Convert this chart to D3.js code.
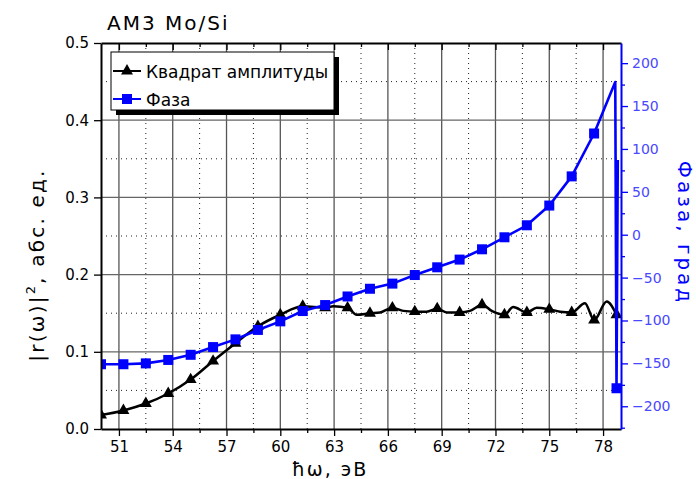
<!DOCTYPE html>
<html>
<head>
<meta charset="utf-8">
<script src="https://cdn.jsdelivr.net/npm/d3@7/dist/d3.min.js"></script>
<style>
  body { margin: 0; background: #fff; }
  svg { display: block; font-family: 'DejaVu Sans', sans-serif; }
</style>
</head>
<body>
<svg></svg>
<script>
// marker energies (eV), shared by both series
let markE = [50, 51.25, 52.5, 53.75, 55, 56.25, 57.5, 58.75, 60, 61.25, 62.5, 63.75,
             65, 66.25, 67.5, 68.75, 70, 71.25, 72.5, 73.75, 75, 76.25, 77.5, 78.75]
let ampMark = [0.018, 0.024, 0.033, 0.046, 0.064, 0.088, 0.111, 0.133, 0.148, 0.159, 0.157, 0.157,
               0.150, 0.157, 0.152, 0.156, 0.151, 0.161, 0.148, 0.151, 0.155, 0.151, 0.141, 0.148]
let phaseMark = [-151, -151, -150, -146, -140, -131, -122, -111, -101, -89, -82, -72,
                 -63, -57, -47, -38, -29, -17, -3, 11, 34, 68, 118, -179]

// full curves (markers + extra points read between them)
let ampE = [50, 51.25, 52.5, 53.75, 55, 56.25, 57.5, 58.75, 60, 61.25, 62.5, 62.96, 63.75, 64.26,
            65, 65.56, 66.25, 66.86, 67.5, 68.16, 68.75, 69.28, 70, 70.58, 71.25, 71.79, 72.5,
            72.99, 73.75, 74.3, 75, 75.6, 76.25, 76.99, 77.5, 78.2, 78.75]
let ampR = [0.018, 0.024, 0.033, 0.046, 0.064, 0.088, 0.111, 0.133, 0.148, 0.159, 0.157, 0.159, 0.157, 0.148,
            0.150, 0.151, 0.157, 0.153, 0.152, 0.152, 0.156, 0.151, 0.151, 0.153, 0.161, 0.153, 0.148,
            0.158, 0.151, 0.157, 0.155, 0.152, 0.151, 0.163, 0.141, 0.165, 0.148]
let phaseE = [50, 51.25, 52.5, 53.75, 55, 56.25, 57.5, 58.75, 60, 61.25, 62.5, 63.75,
              65, 66.25, 67.5, 68.75, 70, 71.25, 72.5, 73.75, 75, 76.25, 77.5, 78.68, 78.75, 78.82]
let phaseV = [-151, -151, -150, -146, -140, -131, -122, -111, -101, -89, -82, -72,
              -63, -57, -47, -38, -29, -17, -3, 11, 34, 68, 118, 178, -179, 87]

let xTicks = [51, 54, 57, 60, 63, 66, 69, 72, 75, 78]
let xMinor = [52.5, 55.5, 58.5, 61.5, 64.5, 67.5, 70.5, 73.5, 76.5]
let yTicks = [0, 0.1, 0.2, 0.3, 0.4, 0.5]
let yMinor = [0.05, 0.15, 0.25, 0.35, 0.45]
let pTicks = [-200, -150, -100, -50, 0, 50, 100, 150, 200]
let pMinor = [-225, -175, -125, -75, -25, 25, 75, 125, 175]

let width = 696
let height = 479
let padL = 101, padR = 621, padT = 43, padB = 429

let svg = d3.select('svg').attr('width', width).attr('height', height)

let xScale = d3.scaleLinear().domain([50, 79]).range([padL, padR])
let yScale = d3.scaleLinear().domain([0, 0.5]).range([padB, padT])
let pScale = d3.scaleLinear().domain([-226.5, 223.5]).range([padB, padT])

// grid
let grid = svg.append('g')
grid.selectAll('line.vmin').data(xMinor).enter().append('line')
    .attr('x1', d => xScale(d)).attr('x2', d => xScale(d))
    .attr('y1', padT).attr('y2', padB)
    .attr('stroke', '#222').attr('stroke-dasharray', '1,4')
grid.selectAll('line.hmin').data(yMinor).enter().append('line')
    .attr('x1', padL).attr('x2', padR)
    .attr('y1', d => yScale(d)).attr('y2', d => yScale(d))
    .attr('stroke', '#222').attr('stroke-dasharray', '1,4')
grid.selectAll('line.vmaj').data(xTicks).enter().append('line')
    .attr('x1', d => xScale(d)).attr('x2', d => xScale(d))
    .attr('y1', padT).attr('y2', padB)
    .attr('stroke', '#555').attr('stroke-width', 1.3)
grid.selectAll('line.hmaj').data(yTicks.slice(1, 5)).enter().append('line')
    .attr('x1', padL).attr('x2', padR)
    .attr('y1', d => yScale(d)).attr('y2', d => yScale(d))
    .attr('stroke', '#666').attr('stroke-width', 1.3)

svg.append('clipPath').attr('id', 'plot')
    .append('rect').attr('x', padL).attr('y', padT - 2)
    .attr('width', padR - padL).attr('height', padB - padT + 2)

let plot = svg.append('g').attr('clip-path', 'url(#plot)')

// amplitude squared
let ampLine = d3.line()
    .x((d, i) => xScale(ampE[i]))
    .y(d => yScale(d))
    .curve(d3.curveMonotoneX)
plot.append('path').datum(ampR)
    .attr('d', ampLine)
    .attr('fill', 'none').attr('stroke', '#000').attr('stroke-width', 2.5)
plot.selectAll('path.tri').data(ampMark).enter().append('path')
    .attr('d', d3.symbol(d3.symbolTriangle, 62))
    .attr('transform', (d, i) => 'translate(' + xScale(markE[i]) + ',' + yScale(d) + ')')
    .attr('fill', '#000')

// phase
let phaseLine = d3.line()
    .x((d, i) => xScale(phaseE[i]))
    .y(d => pScale(d))
plot.append('path').datum(phaseV)
    .attr('d', phaseLine)
    .attr('fill', 'none').attr('stroke', '#0000ff').attr('stroke-width', 2.6)
    .attr('stroke-linejoin', 'round')
plot.selectAll('rect.sq').data(phaseMark).enter().append('rect')
    .attr('x', (d, i) => xScale(markE[i]) - 5)
    .attr('y', d => pScale(d) - 5)
    .attr('width', 10).attr('height', 10)
    .attr('fill', '#0000ff')

// axes
let styleAxis = (g, color, w) => {
    g.select('.domain').attr('stroke', color).attr('stroke-width', w)
    g.selectAll('.tick line').attr('stroke', color).attr('stroke-width', 1.3)
}

let gLeft = svg.append('g').attr('transform', 'translate(' + padL + ',0)')
    .call(d3.axisLeft(yScale).tickValues(yTicks).tickFormat(d3.format('.1f')).tickSize(7).tickSizeOuter(0).tickPadding(5))
styleAxis(gLeft, '#000', 2)
gLeft.selectAll('text').attr('font-size', 15).attr('fill', '#000').attr('font-family', 'DejaVu Sans')

let gBot = svg.append('g').attr('transform', 'translate(0,' + padB + ')')
    .call(d3.axisBottom(xScale).tickValues(xTicks).tickSize(7).tickSizeOuter(0).tickPadding(5))
styleAxis(gBot, '#000', 2)
gBot.selectAll('text').attr('font-size', 15).attr('fill', '#000').attr('font-family', 'DejaVu Sans')
let gBotMin = svg.append('g').attr('transform', 'translate(0,' + padB + ')')
    .call(d3.axisBottom(xScale).tickValues(xMinor).tickSize(4).tickSizeOuter(0).tickFormat(''))
styleAxis(gBotMin, '#000', 0)

let gTop = svg.append('g').attr('transform', 'translate(0,' + padT + ')')
    .call(d3.axisTop(xScale).tickValues(xTicks).tickSize(-7).tickSizeOuter(0).tickFormat(''))
styleAxis(gTop, '#000', 2)
let gTopMin = svg.append('g').attr('transform', 'translate(0,' + padT + ')')
    .call(d3.axisTop(xScale).tickValues(xMinor).tickSize(-4).tickSizeOuter(0).tickFormat(''))
styleAxis(gTopMin, '#000', 0)

let gRight = svg.append('g').attr('transform', 'translate(' + padR + ',0)')
    .call(d3.axisRight(pScale).tickValues(pTicks).tickSize(7).tickSizeOuter(0).tickPadding(4))
styleAxis(gRight, '#0000ff', 2)
gRight.selectAll('text').attr('font-size', 14).attr('fill', '#4848ff').attr('font-family', 'DejaVu Sans')
let gRightMin = svg.append('g').attr('transform', 'translate(' + padR + ',0)')
    .call(d3.axisRight(pScale).tickValues(pMinor).tickSize(4).tickSizeOuter(0).tickFormat(''))
styleAxis(gRightMin, '#0000ff', 0)

// titles
svg.append('text')
    .attr('x', 107).attr('y', 30)
    .attr('font-size', 20).attr('letter-spacing', 2)
    .text('AM3 Mo/Si')

let yTitle = svg.append('text')
    .attr('transform', 'translate(44,265) rotate(-90)')
    .attr('text-anchor', 'middle')
    .attr('font-size', 20).attr('letter-spacing', 2.2)
yTitle.append('tspan').text('|r(ω)|')
yTitle.append('tspan').attr('dy', -9).attr('font-size', 13).text('2')
yTitle.append('tspan').attr('dy', 9).text(', абс. ед.')

svg.append('text')
    .attr('x', 330).attr('y', 476)
    .attr('text-anchor', 'middle')
    .attr('font-size', 19).attr('letter-spacing', 2)
    .text('ħω,  эВ')

svg.append('text')
    .attr('transform', 'translate(678,233) rotate(90)')
    .attr('text-anchor', 'middle')
    .attr('font-size', 20).attr('letter-spacing', 3)
    .attr('fill', '#0000ff')
    .text('Фаза, град')

// legend
let legend = svg.append('g')
legend.append('rect').attr('x', 116).attr('y', 57).attr('width', 223).attr('height', 58).attr('fill', '#000')
legend.append('rect').attr('x', 111).attr('y', 52).attr('width', 223).attr('height', 58)
    .attr('fill', '#fff').attr('stroke', '#000').attr('stroke-width', 1)
legend.append('line').attr('x1', 113).attr('x2', 141).attr('y1', 71).attr('y2', 71)
    .attr('stroke', '#000').attr('stroke-width', 2)
legend.append('path').attr('d', d3.symbol(d3.symbolTriangle, 62))
    .attr('transform', 'translate(127,71)')
legend.append('text').attr('x', 146).attr('y', 78).attr('font-size', 17).text('Квадрат амплитуды')
legend.append('line').attr('x1', 113).attr('x2', 141).attr('y1', 99).attr('y2', 99)
    .attr('stroke', '#0000ff').attr('stroke-width', 2)
legend.append('rect').attr('x', 122).attr('y', 94).attr('width', 10).attr('height', 10).attr('fill', '#0000ff')
legend.append('text').attr('x', 146).attr('y', 106).attr('font-size', 17).text('Фаза')
</script>
</body>
</html>
